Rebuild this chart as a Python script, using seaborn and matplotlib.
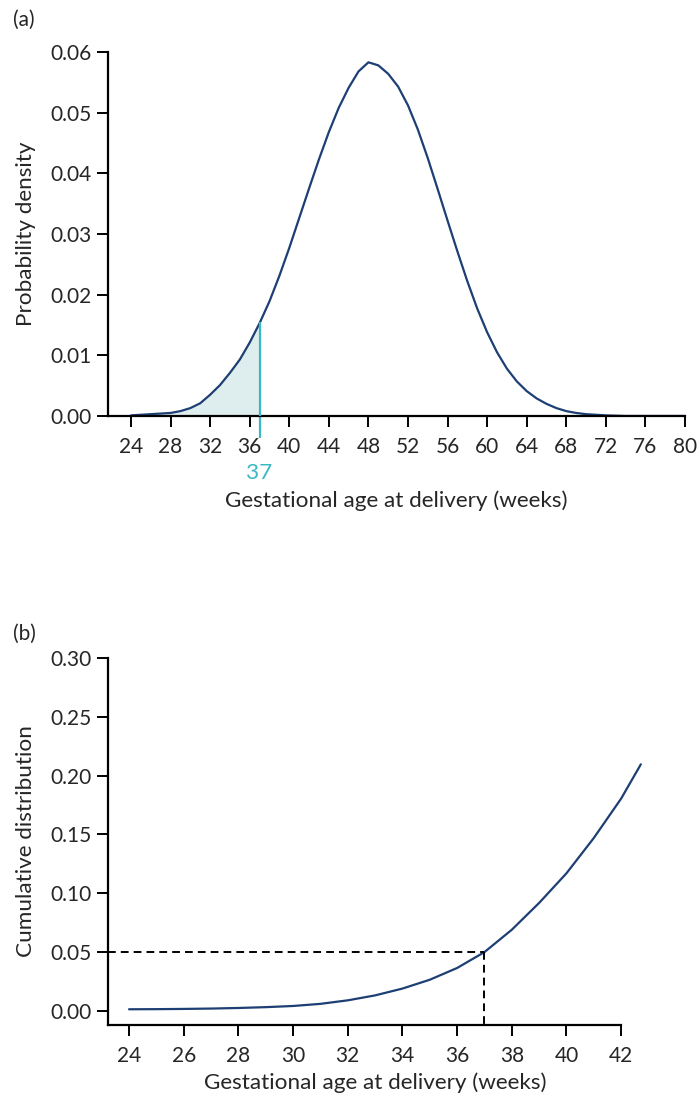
import numpy as np
import pandas as pd
import matplotlib
matplotlib.use("Agg")
import matplotlib.pyplot as plt
import seaborn as sns

# Painel (a) - densidade de probabilidade
semanas_a = [24, 25, 26, 27, 28, 29, 30, 31, 32, 33, 34, 35, 36, 37, 38, 39, 40,
             41, 42, 43, 44, 45, 46, 47, 48, 49, 50, 51, 52, 53, 54, 55, 56, 57,
             58, 59, 60, 61, 62, 63, 64, 65, 66, 67, 68, 69, 70, 71, 72, 74, 76,
             78, 80]
densidade = [0.0001, 0.0002, 0.0003, 0.0004, 0.0005, 0.0008, 0.0013, 0.0021,
             0.0035, 0.0051, 0.0071, 0.0093, 0.0121, 0.0153, 0.0189, 0.0231,
             0.0277, 0.0326, 0.0375, 0.0423, 0.0468, 0.0508, 0.0541, 0.0568,
             0.0583, 0.0578, 0.0564, 0.0543, 0.0512, 0.0472, 0.0425, 0.0374,
             0.0322, 0.0271, 0.0222, 0.0177, 0.0138, 0.0105, 0.0078, 0.0057,
             0.0041, 0.0029, 0.0020, 0.0013, 0.0008, 0.0005, 0.0003, 0.0002,
             0.0001, 0.0, 0.0, 0.0, 0.0]

# Painel (b) - distribuição acumulada
semanas_b = [24, 25, 26, 27, 28, 29, 30, 31, 32, 33, 34, 35, 36, 37, 38, 39, 40,
             41, 42, 42.72]
acumulada = [0.0014, 0.0015, 0.0017, 0.0020, 0.0025, 0.0032, 0.0042, 0.0060,
             0.0090, 0.0132, 0.0190, 0.0265, 0.0365, 0.0500, 0.0690, 0.0918,
             0.1170, 0.1470, 0.1805, 0.2096]

corte = 37
corte_acum = 0.05

df_a = pd.DataFrame({"semana": semanas_a, "dens": densidade})
df_b = pd.DataFrame({"semana": semanas_b, "acum": acumulada})

sns.set_style("ticks")
plt.rcParams['font.family'] = ['Lato', 'DejaVu Sans']

azul = "#1d3f73"
ciano = "#3bb9c1"
preenc = "#deedee"
fs = 15
fs_lab = 16.2

fig = plt.figure(figsize=(7, 10.97), dpi=100)

# ---------------- (a)
ax1 = fig.add_axes([0.1543, 0.6208, 0.8243, 0.3318])
sns.lineplot(data=df_a, x="semana", y="dens", color=azul, lw=1.6, ax=ax1)
sub = df_a[df_a.semana <= corte]
ax1.fill_between(sub.semana, sub.dens, 0, color=preenc, lw=0, zorder=0)
val37 = df_a.loc[df_a.semana == corte, "dens"].iloc[0]
ax1.plot([corte, corte], [0, val37], color=ciano, lw=1.6, zorder=3)

ax1.set_xlim(21.68, 80)
ax1.set_ylim(0, 0.06)
ax1.set_xticks(range(24, 81, 4))
ax1.set_yticks(np.arange(0, 0.061, 0.01))
ax1.set_yticklabels([f"{v:.2f}" for v in np.arange(0, 0.061, 0.01)])
ax1.set_xticks([corte], minor=True)
ax1.tick_params(axis="x", which="minor", length=16, width=1.6, color=ciano)
ax1.text(corte, -0.157, "37", transform=ax1.get_xaxis_transform(),
         ha="center", va="center", color=ciano, fontsize=fs_lab)
ax1.set_xlabel("Gestational age at delivery (weeks)", fontsize=fs_lab, labelpad=24)
ax1.set_ylabel("Probability density", fontsize=fs_lab, labelpad=10)
sns.despine(ax=ax1)
fig.text(0.018, 0.982, "(a)", fontsize=fs, ha="left", va="center")

# ---------------- (b)
ax2 = fig.add_axes([0.1543, 0.0656, 0.7643, 0.3346])
sns.lineplot(data=df_b, x="semana", y="acum", color=azul, lw=1.6, ax=ax2)
ax2.plot([23.23, corte], [corte_acum, corte_acum], color="black", lw=1.4,
         dashes=(4, 2.6), clip_on=False)
ax2.plot([corte, corte], [corte_acum, -0.012], color="black", lw=1.4,
         dashes=(4, 2.6), clip_on=False)
ax2.set_xlim(23.23, 42.8)
ax2.set_ylim(-0.012, 0.30)
ax2.set_xticks(range(24, 43, 2))
ax2.set_yticks(np.arange(0, 0.301, 0.05))
ax2.set_yticklabels([f"{v:.2f}" for v in np.arange(0, 0.301, 0.05)])
ax2.set_xlabel("Gestational age at delivery (weeks)", fontsize=fs_lab, labelpad=5)
ax2.set_ylabel("Cumulative distribution", fontsize=fs_lab, labelpad=10)
sns.despine(ax=ax2)
ax2.spines["bottom"].set_bounds(23.23, 42)
ax2.spines["left"].set_bounds(-0.012, 0.30)
fig.text(0.018, 0.422, "(b)", fontsize=fs, ha="left", va="center")

for ax in (ax1, ax2):
    ax.tick_params(axis="both", which="major", labelsize=fs, length=8,
                   width=1.4, color="black")
    ax.tick_params(axis="x", which="major", pad=7)
    ax.tick_params(axis="y", which="major", pad=4)
    for s in ("left", "bottom"):
        ax.spines[s].set_linewidth(1.6)
        ax.spines[s].set_color("black")

fig.savefig("out.png", dpi=100)
